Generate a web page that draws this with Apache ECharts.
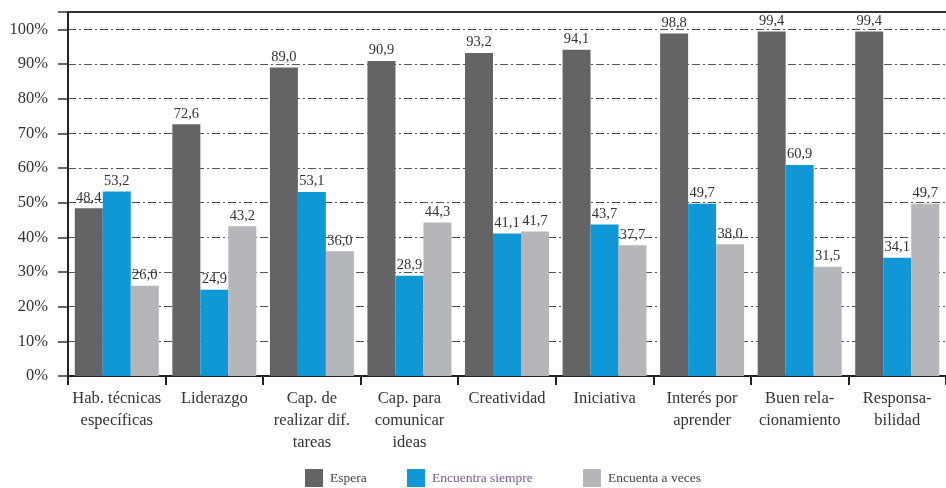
<!DOCTYPE html>
<html>
<head>
<meta charset="utf-8">
<script src="https://cdn.jsdelivr.net/npm/echarts@6/dist/echarts.min.js"></script>
<style>
  html, body { margin: 0; padding: 0; background: #fff; }
  #chart { width: 946px; height: 488px; }
</style>
</head>
<body>
<div id="chart"></div>
<script>
// Competencias: lo que se espera frente a lo que se encuentra (%)
const categories = [
  'Hab. técnicas\nespecíficas',
  'Liderazgo',
  'Cap. de\nrealizar dif.\ntareas',
  'Cap. para\ncomunicar\nideas',
  'Creatividad',
  'Iniciativa',
  'Interés por\naprender',
  'Buen rela-\ncionamiento',
  'Responsa-\nbilidad'
];
const espera = [48.4, 72.6, 89.0, 90.9, 93.2, 94.1, 98.8, 99.4, 99.4];
const encuentraSiempre = [53.2, 24.9, 53.1, 28.9, 41.1, 43.7, 49.7, 60.9, 34.1];
const encuentaAVeces = [26.0, 43.2, 36.0, 44.3, 41.7, 37.7, 38.0, 31.5, 49.7];
const seriesNames = ['Espera', 'Encuentra siempre', 'Encuenta a veces'];
const yTicks = [0, 10, 20, 30, 40, 50, 60, 70, 80, 90, 100];

const FONT = '"Liberation Serif", "DejaVu Serif", serif';
const colors = ['#646467', '#0f97d6', '#b5b6b9'];

const chart = echarts.init(document.getElementById('chart'), null, { renderer: 'canvas' });

function barSeries(name, data, color) {
  return {
    name: name,
    type: 'bar',
    data: data,
    barWidth: 28,
    barGap: '0%',
    itemStyle: { color: color },
    label: {
      show: true,
      position: 'top',
      distance: 3,
      fontFamily: FONT,
      fontSize: 14.5,
      color: '#333',
      formatter: p => p.value.toFixed(1).replace('.', ',')
    }
  };
}

function legendAt(left, idx, textColor) {
  return {
    left: left,
    top: 469,
    padding: 0,
    itemWidth: 18,
    itemHeight: 18,
    itemGap: 0,
    icon: 'rect',
    selectedMode: false,
    data: [seriesNames[idx]],
    textStyle: { fontFamily: FONT, fontSize: 13.5, color: textColor, padding: [0, 0, 0, 2] }
  };
}

chart.setOption({
  animation: false,
  textStyle: { fontFamily: FONT },
  color: colors,
  legend: [
    legendAt(305, 0, '#444'),
    legendAt(407, 1, '#7a5b8e'),
    legendAt(583, 2, '#444')
  ],
  grid: { left: 68, right: -7, top: 12, bottom: 112, containLabel: false },
  xAxis: [
    {
      type: 'category',
      data: categories,
      axisLine: { lineStyle: { color: '#222', width: 2 } },
      axisTick: { show: true, length: 9, inside: false, lineStyle: { color: '#222', width: 2 } },
      axisLabel: {
        interval: 0,
        margin: 12,
        fontFamily: FONT,
        fontSize: 16.5,
        lineHeight: 22,
        color: '#333'
      }
    },
    {
      type: 'category',
      position: 'top',
      data: categories,
      axisLine: { show: true, lineStyle: { color: '#333', width: 2 } },
      axisTick: { show: false },
      axisLabel: { show: false }
    }
  ],
  yAxis: {
    type: 'value',
    min: 0,
    max: 105,
    interval: 10,
    axisLine: { show: true, lineStyle: { color: '#222', width: 2 } },
    axisTick: { show: true, length: 10, lineStyle: { color: '#333', width: 1.5 } },
    axisLabel: {
      margin: 20,
      fontFamily: FONT,
      fontSize: 16.5,
      color: '#333',
      formatter: v => (yTicks.indexOf(v) >= 0 ? v + '%' : '')
    },
    splitLine: {
      show: true,
      lineStyle: { color: '#555', width: 1, type: [8, 3, 2, 3] }
    }
  },
  series: [
    barSeries(seriesNames[0], espera, colors[0]),
    barSeries(seriesNames[1], encuentraSiempre, colors[1]),
    barSeries(seriesNames[2], encuentaAVeces, colors[2])
  ]
});
</script>
</body>
</html>
